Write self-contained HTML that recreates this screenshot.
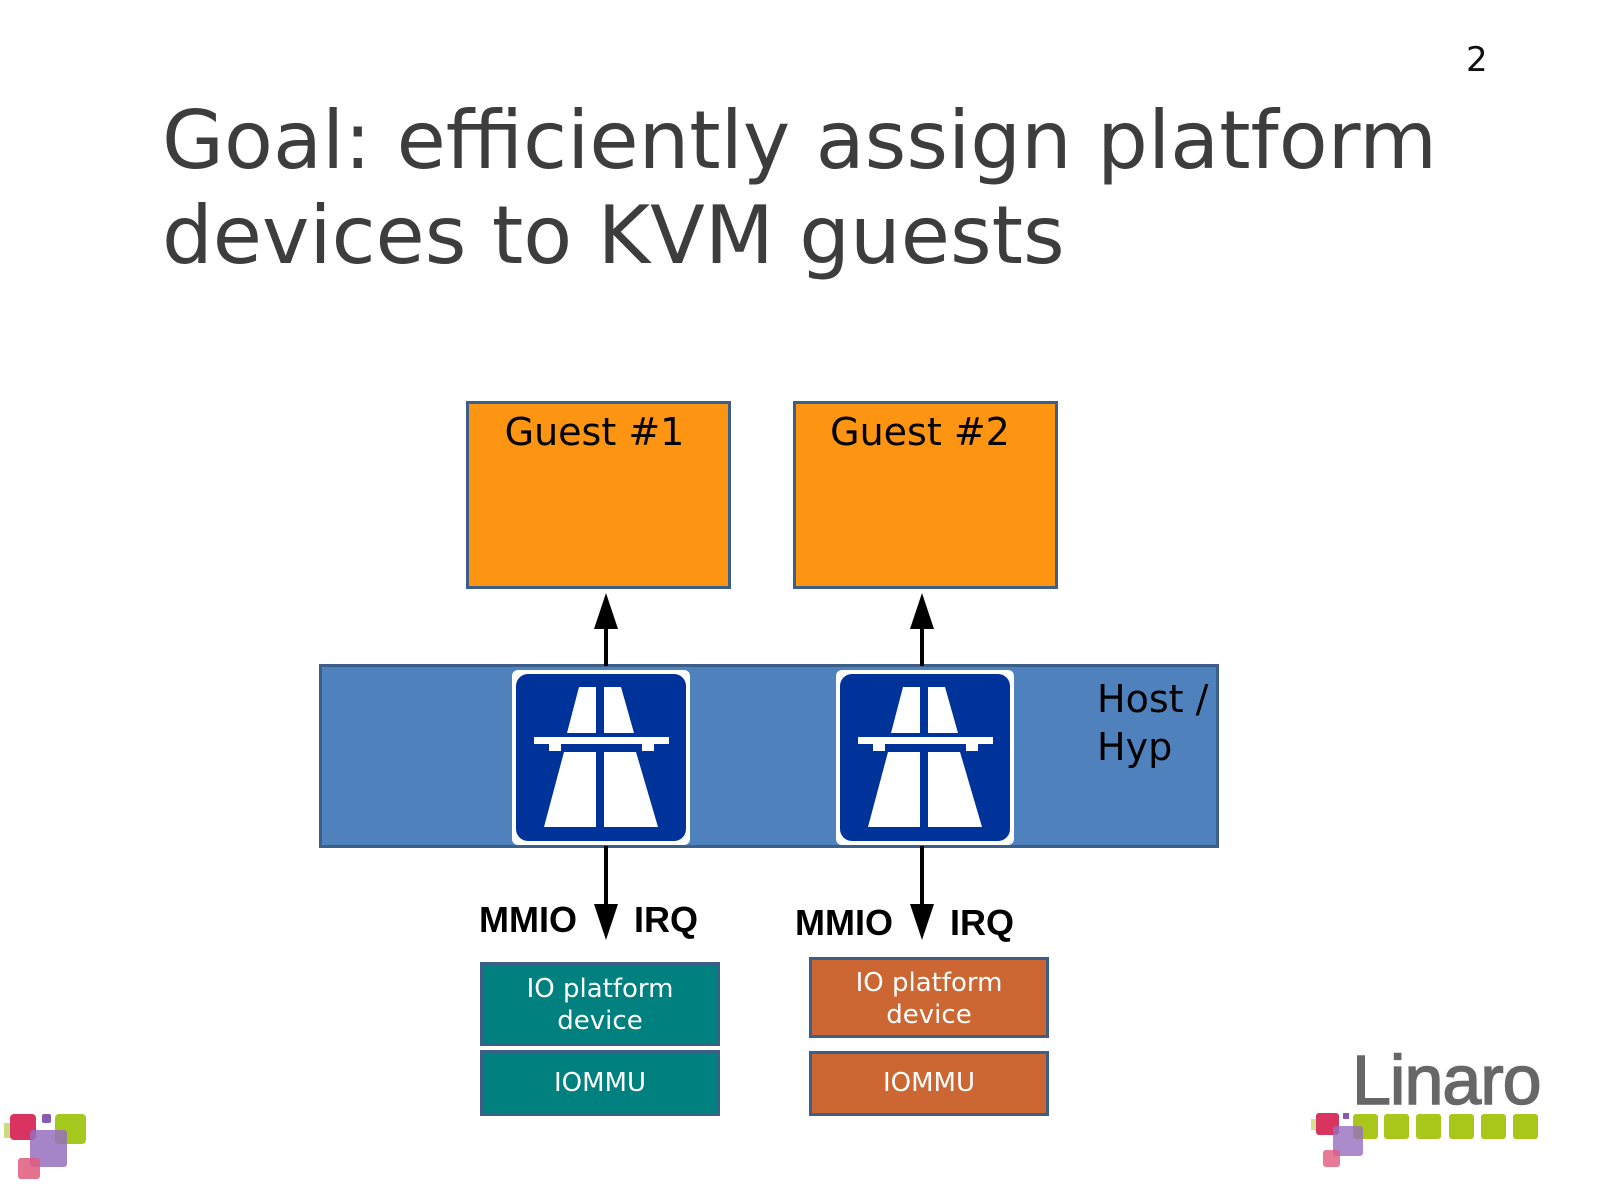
<!DOCTYPE html>
<html><head><style>
body{margin:0;background:#fff;}
.r{position:absolute;box-sizing:border-box;}
.t{position:absolute;font-family:"DejaVu Sans","Liberation Sans",sans-serif;white-space:nowrap;}
</style></head><body>
<div style="position:relative;width:1600px;height:1200px;overflow:hidden;">
<div class="t" style="left:1466px;top:40px;font-size:34px;color:#111;">2</div>
<div class="t" style="left:162px;top:93px;font-size:80px;line-height:95px;color:#3d3d3d;">Goal: efficiently assign platform<br>devices to KVM guests</div>

<div class="r" style="left:466px;top:401px;width:265px;height:188px;background:#fd9412;border:3px solid #3c5f8a;"></div>
<div class="t" style="left:462px;top:410px;width:265px;text-align:center;font-size:38px;">Guest #1</div>
<div class="r" style="left:793px;top:401px;width:265px;height:188px;background:#fd9412;border:3px solid #3c5f8a;"></div>
<div class="t" style="left:790px;top:410px;width:260px;text-align:center;font-size:38px;">Guest #2</div>

<div class="r" style="left:319px;top:664px;width:900px;height:184px;background:#4f81bd;border:3px solid #3c5f8a;"></div>
<div class="t" style="left:1097px;top:675px;font-size:38px;line-height:48px;">Host /<br>Hyp</div>

<svg width="1600" height="1200" style="position:absolute;left:0;top:0;">
<defs>
<g id="sign">
<rect x="0" y="0" width="178" height="175" rx="6" fill="#fff"/>
<rect x="4" y="4" width="170" height="167" rx="12" fill="#003399"/>
<polygon points="67,17 84,17 84,63 55,63" fill="#fff"/>
<polygon points="92,17 109,17 122,63 92,63" fill="#fff"/>
<rect x="22" y="67" width="135" height="7" fill="#fff"/>
<rect x="37" y="73" width="12" height="8" fill="#fff"/>
<rect x="130" y="73" width="12" height="8" fill="#fff"/>
<polygon points="52,82 84,82 84,157 32,157" fill="#fff"/>
<polygon points="92,82 124,82 146,157 92,157" fill="#fff"/>
</g>
</defs>
<line x1="606" y1="625" x2="606" y2="666" stroke="#000" stroke-width="4"/>
<polygon points="606,593 594,629 618,629" fill="#000"/>
<line x1="922" y1="625" x2="922" y2="666" stroke="#000" stroke-width="4"/>
<polygon points="922,593 910,629 934,629" fill="#000"/>
<use href="#sign" x="512" y="670"/>
<use href="#sign" x="836" y="670"/>
<line x1="606" y1="846" x2="606" y2="910" stroke="#000" stroke-width="4"/>
<polygon points="606,940 594,904 618,904" fill="#000"/>
<line x1="922" y1="846" x2="922" y2="910" stroke="#000" stroke-width="4"/>
<polygon points="922,940 910,904 934,904" fill="#000"/>
</svg>

<div class="t" style="left:479px;top:899px;font-size:36px;font-weight:bold;font-family:'Liberation Sans',sans-serif;">MMIO</div>
<div class="t" style="left:634px;top:899px;font-size:36px;font-weight:bold;font-family:'Liberation Sans',sans-serif;">IRQ</div>
<div class="t" style="left:795px;top:902px;font-size:36px;font-weight:bold;font-family:'Liberation Sans',sans-serif;">MMIO</div>
<div class="t" style="left:950px;top:902px;font-size:36px;font-weight:bold;font-family:'Liberation Sans',sans-serif;">IRQ</div>

<div class="r" style="left:480px;top:962px;width:240px;height:84px;background:#00807f;border:3px solid #3c5f8a;"></div>
<div class="t" style="left:480px;top:973px;width:240px;text-align:center;font-size:26px;line-height:32px;color:#fff;">IO platform<br>device</div>
<div class="r" style="left:480px;top:1050px;width:240px;height:66px;background:#00807f;border:3px solid #3c5f8a;"></div>
<div class="t" style="left:480px;top:1068px;width:240px;text-align:center;font-size:26px;color:#fff;">IOMMU</div>

<div class="r" style="left:809px;top:957px;width:240px;height:81px;background:#cc6633;border:3px solid #3c5f8a;"></div>
<div class="t" style="left:809px;top:967px;width:240px;text-align:center;font-size:26px;line-height:32px;color:#fff;">IO platform<br>device</div>
<div class="r" style="left:809px;top:1051px;width:240px;height:65px;background:#cc6633;border:3px solid #3c5f8a;"></div>
<div class="t" style="left:809px;top:1068px;width:240px;text-align:center;font-size:26px;color:#fff;">IOMMU</div>

<!-- left logo -->
<div class="r" style="left:4px;top:1123px;width:12px;height:15px;background:#c9dd80;"></div>
<div class="r" style="left:10px;top:1114px;width:26px;height:26px;background:#d9345f;border-radius:4px;"></div>
<div class="r" style="left:42px;top:1114px;width:9px;height:9px;background:#8a5ab0;border-radius:2px;"></div>
<div class="r" style="left:55px;top:1114px;width:31px;height:30px;background:#a4c81e;border-radius:4px;"></div>
<div class="r" style="left:30px;top:1130px;width:37px;height:37px;background:rgba(150,110,190,0.85);border-radius:3px;"></div>
<div class="r" style="left:18px;top:1158px;width:22px;height:21px;background:rgba(225,90,125,0.85);border-radius:3px;"></div>
<!-- Linaro logo -->
<div class="t" style="left:1352px;top:1040px;font-size:70px;color:#676767;font-family:'Liberation Sans',sans-serif;letter-spacing:-1px;-webkit-text-stroke:1.5px #676767;">Linaro</div>
<div class="r" style="left:1353px;top:1114px;width:25px;height:25px;background:#a9c61a;border-radius:3px;"></div>
<div class="r" style="left:1384px;top:1114px;width:25px;height:25px;background:#a9c61a;border-radius:3px;"></div>
<div class="r" style="left:1416px;top:1114px;width:25px;height:25px;background:#a9c61a;border-radius:3px;"></div>
<div class="r" style="left:1449px;top:1114px;width:25px;height:25px;background:#a9c61a;border-radius:3px;"></div>
<div class="r" style="left:1481px;top:1114px;width:25px;height:25px;background:#a9c61a;border-radius:3px;"></div>
<div class="r" style="left:1513px;top:1114px;width:25px;height:25px;background:#a9c61a;border-radius:3px;"></div>
<div class="r" style="left:1311px;top:1119px;width:7px;height:11px;background:#d5e090;"></div>
<div class="r" style="left:1316px;top:1113px;width:23px;height:22px;background:#d9345f;border-radius:3px;"></div>
<div class="r" style="left:1343px;top:1113px;width:6px;height:6px;background:#8a5ab0;"></div>
<div class="r" style="left:1333px;top:1126px;width:30px;height:30px;background:rgba(150,110,190,0.8);border-radius:3px;"></div>
<div class="r" style="left:1323px;top:1150px;width:17px;height:17px;background:rgba(225,90,125,0.8);border-radius:3px;"></div>
</div>
</body></html>
